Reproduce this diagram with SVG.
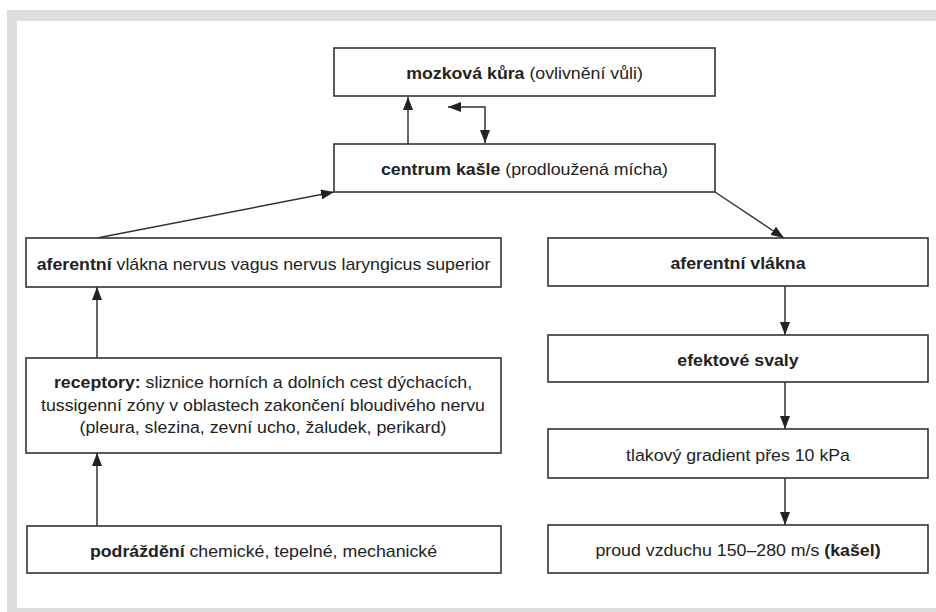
<svg xmlns="http://www.w3.org/2000/svg" width="936" height="612" viewBox="0 0 936 612">
<style>
.box{fill:#fff;stroke:#333;stroke-width:1.6}
.t{font-family:"Liberation Sans",Arial,sans-serif;font-size:16px;fill:#222;text-anchor:middle}
.b{font-weight:bold}
.c{fill:none;stroke:#333;stroke-width:1.5}
</style>
<defs>
<marker id="ah" viewBox="0 0 13 10" refX="13" refY="5" markerWidth="13" markerHeight="10" orient="auto-start-reverse" markerUnits="userSpaceOnUse">
<path d="M0,0 L13,5 L0,10 z" fill="#222"/>
</marker>
</defs>
<rect x="0" y="0" width="936" height="612" fill="#fff"/>
<rect x="7" y="10" width="960" height="620" fill="#dcdddf"/>
<rect x="17" y="21" width="940" height="587" fill="#fff"/>

<g id="connectors">
<line class="c" x1="408" y1="144" x2="408" y2="97" marker-end="url(#ah)"/>
<polyline class="c" points="448,107 485,107 485,143" marker-start="url(#ah)" marker-end="url(#ah)"/>
<line class="c" x1="97" y1="238" x2="334" y2="192" marker-end="url(#ah)"/>
<line class="c" x1="715" y1="192" x2="784" y2="238" marker-end="url(#ah)"/>
<line class="c" x1="97" y1="358" x2="97" y2="287" marker-end="url(#ah)"/>
<line class="c" x1="97" y1="526" x2="97" y2="453" marker-end="url(#ah)"/>
<line class="c" x1="785" y1="286" x2="785" y2="335" marker-end="url(#ah)"/>
<line class="c" x1="785" y1="382" x2="785" y2="429" marker-end="url(#ah)"/>
<line class="c" x1="785" y1="478" x2="785" y2="525" marker-end="url(#ah)"/>
</g>

<g id="mozkova-kura">
<rect class="box" x="334" y="48" width="381" height="48"/>
<text class="t" transform="translate(524.5,79) scale(1.11,1)"><tspan class="b">mozková kůra</tspan> (ovlivnění vůli)</text>
</g>
<g id="centrum-kasle">
<rect class="box" x="334" y="144" width="381" height="48"/>
<text class="t" transform="translate(524.5,175) scale(1.11,1)"><tspan class="b">centrum kašle</tspan> (prodloužená mícha)</text>
</g>
<g id="aferentni-vlakna-vagus">
<rect class="box" x="26" y="238" width="475" height="49"/>
<text class="t" transform="translate(263.5,269.5) scale(1.11,1)"><tspan class="b">aferentní</tspan> vlákna nervus vagus nervus laryngicus superior</text>
</g>
<g id="receptory">
<rect class="box" x="26" y="358" width="475" height="95"/>
<text class="t" transform="translate(263,388) scale(1.11,1)"><tspan class="b">receptory:</tspan> sliznice horních a dolních cest dýchacích,</text>
<text class="t" transform="translate(263,410.5) scale(1.11,1)">tussigenní zóny v oblastech zakončení bloudivého nervu</text>
<text class="t" transform="translate(263,433) scale(1.11,1)">(pleura, slezina, zevní ucho, žaludek, perikard)</text>
</g>
<g id="podrazdeni">
<rect class="box" x="27" y="526" width="474" height="47"/>
<text class="t" transform="translate(263.5,556.5) scale(1.11,1)"><tspan class="b">podráždění</tspan> chemické, tepelné, mechanické</text>
</g>
<g id="aferentni-vlakna">
<rect class="box" x="548" y="238" width="380" height="48"/>
<text class="t b" transform="translate(738,269) scale(1.11,1)">aferentní vlákna</text>
</g>
<g id="efektove-svaly">
<rect class="box" x="548" y="335" width="380" height="47"/>
<text class="t b" transform="translate(738,365.5) scale(1.11,1)">efektové svaly</text>
</g>
<g id="tlakovy-gradient">
<rect class="box" x="548" y="429" width="380" height="49"/>
<text class="t" transform="translate(738,460.5) scale(1.11,1)">tlakový gradient přes 10 kPa</text>
</g>
<g id="proud-vzduchu">
<rect class="box" x="548" y="525" width="380" height="48"/>
<text class="t" transform="translate(738,556) scale(1.11,1)">proud vzduchu 150–280 m/s <tspan class="b">(kašel)</tspan></text>
</g>
</svg>
